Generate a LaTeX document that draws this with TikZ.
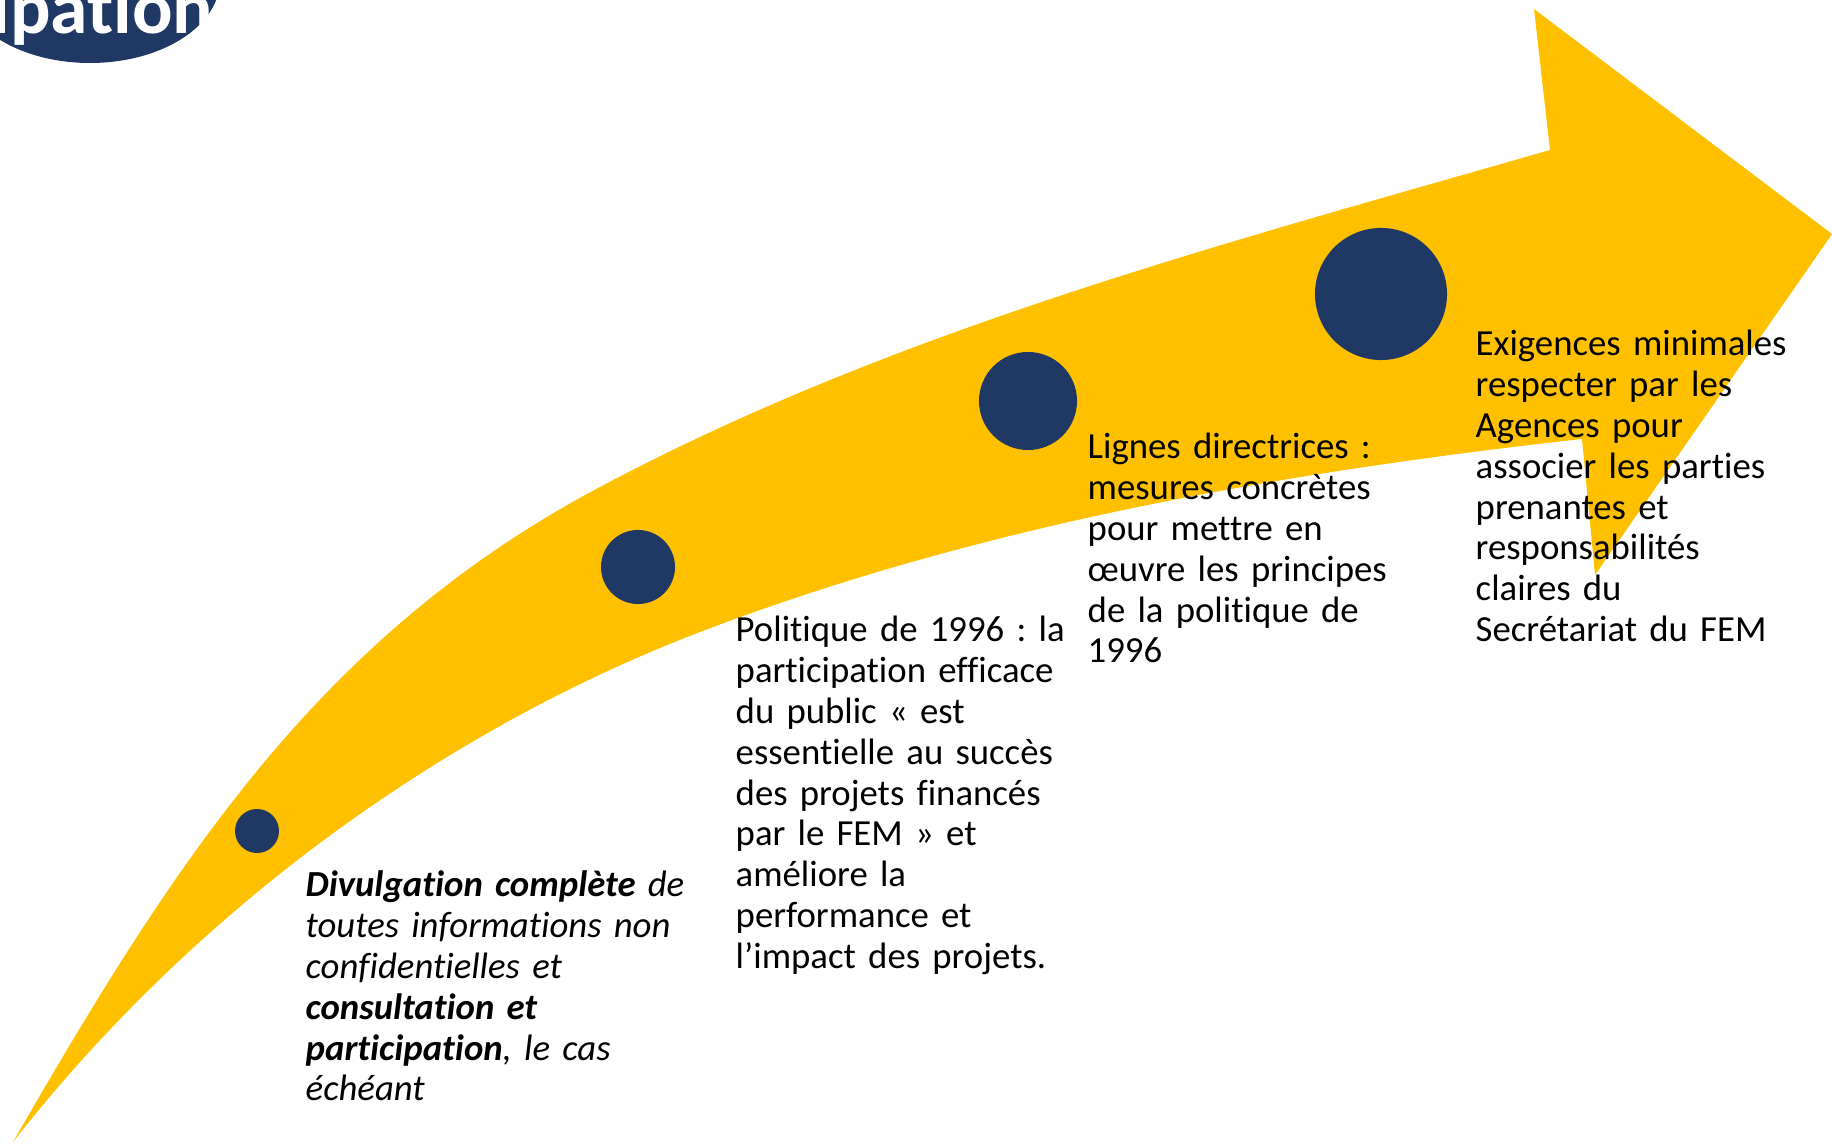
\documentclass[tikz,border=0pt]{standalone}
\usepackage{fontspec}
\setmainfont{Carlito}[Ligatures=NoCommon]
\definecolor{gold}{HTML}{FFC000}
\definecolor{navy}{HTML}{203864}
\frenchspacing

\begin{document}
\begin{tikzpicture}[x=0.01cm, y=-0.01cm,
  dot/.style={circle, fill=navy, inner sep=0pt},
  stage/.style={font=\fontsize{10.45}{11.6}\selectfont, text width=4cm,
                align=left, inner sep=0pt, anchor=base west},
  logotxt/.style={font=\fontsize{21.5}{24}\selectfont\bfseries, text=white,
                  inner sep=0pt, anchor=base east},
]
\useasboundingbox (0,0) rectangle (1832,1146);
\clip (0,0) rectangle (1832,1146);

% title badge, cut by the page
\fill[navy] (90,-20) ellipse [x radius=130, y radius=83];
\node[logotxt] (title) at (214,34) {Participation};

% the curved arrow
\fill[gold] (13,1142) .. controls (173,865) and (317,637) .. (600,487)
  .. controls (897,329) and (1227,243) .. (1550,150)
  -- (1534,9) -- (1832,234) -- (1595,575) -- (1582,439)
  .. controls (1284,472) and (980,525) .. (700,632)
  .. controls (434,734) and (189,917) .. (13,1142)
  -- cycle;

\node[dot, minimum size=4.4mm] (d1) at (257,831) {};
\node[dot, minimum size=7.4mm] (d2) at (638,567) {};
\node[dot, minimum size=9.8mm] (d3) at (1028,401) {};
\node[dot, minimum size=13.2mm] (d4) at (1381,294) {};

\node[stage, font=\fontsize{10.45}{11.6}\selectfont\itshape] (s1) at (305,897)
  {\textbf{Divulgation complète} de\\ toutes informations non\\ confidentielles et\\
   \textbf{consultation et}\\ \textbf{participation}, le cas\\ échéant};
\node[stage] (s2) at (735,642)
  {Politique de 1996 : la\\ participation efficace\\ du public « est\\
   essentielle au succès\\ des projets financés\\ par le FEM » et\\
   améliore la\\ performance et\\ l’impact des projets.};
\node[stage] (s3) at (1087,459)
  {Lignes directrices :\\ mesures concrètes\\ pour mettre en\\
   œuvre les principes\\ de la politique de\\ 1996};
\node[stage] (s4) at (1475,356)
  {Exigences minimales\\ respecter par les\\ Agences pour\\
   associer les parties\\ prenantes et\\ responsabilités\\
   claires du\\ Secrétariat du FEM};
\end{tikzpicture}
\end{document}
